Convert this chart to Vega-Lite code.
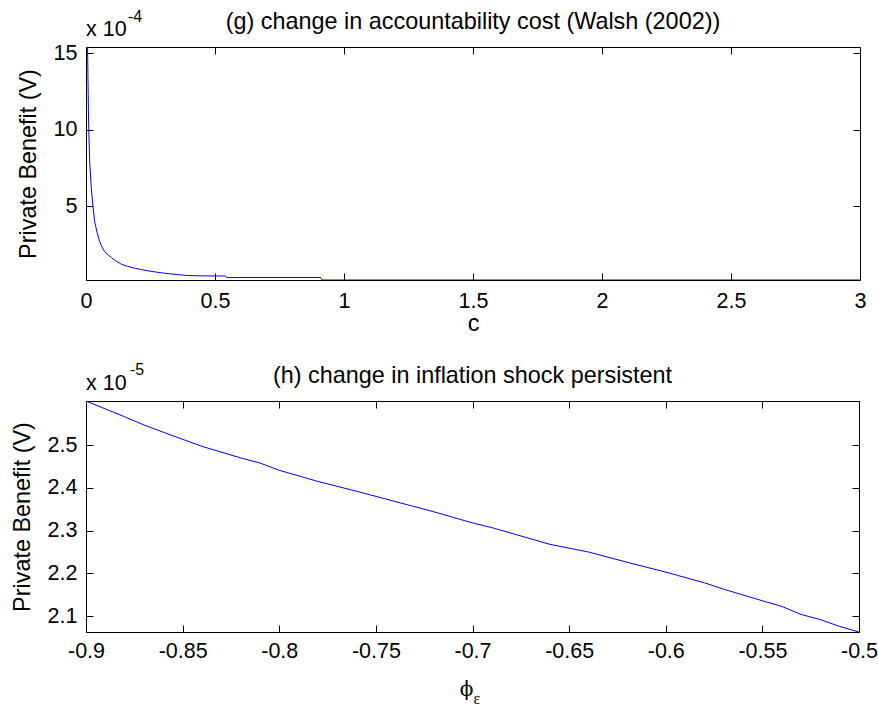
{
  "$schema": "https://vega.github.io/schema/vega-lite/v6.json",
  "background": "white",
  "padding": {"left": 10, "top": 9, "right": 0, "bottom": 0},
  "spacing": 27,
  "config": {
    "view": {"stroke": null},
    "font": "Liberation Sans",
    "axis": {
      "labelFont": "Liberation Sans",
      "labelFontSize": 21.5,
      "labelColor": "black",
      "titleFont": "Liberation Sans",
      "titleFontSize": 23.4,
      "titleFontWeight": "normal",
      "titleColor": "black",
      "domainColor": "black",
      "domainWidth": 1,
      "tickColor": "black",
      "tickSize": -7,
      "tickWidth": 1,
      "grid": false,
      "labelFlush": false,
      "labelOverlap": false
    },
    "text": {"color": "black", "font": "Liberation Sans"}
  },
  "vconcat": [
    {
      "width": 774,
      "height": 233,
      "layer": [
        {
          "data": {"name": "accountability", "values": [
            {"c": 0.006, "v": 1.54e-3},
            {"c": 0.010, "v": 1.05e-3},
            {"c": 0.0143, "v": 7.9e-4},
            {"c": 0.0205, "v": 6.2e-4},
            {"c": 0.027, "v": 5.0e-4},
            {"c": 0.0337, "v": 4.0e-4},
            {"c": 0.043, "v": 3.3e-4},
            {"c": 0.053, "v": 2.7e-4},
            {"c": 0.062, "v": 2.35e-4},
            {"c": 0.072, "v": 2.06e-4},
            {"c": 0.085, "v": 1.85e-4},
            {"c": 0.098, "v": 1.67e-4},
            {"c": 0.115, "v": 1.45e-4},
            {"c": 0.137, "v": 1.23e-4},
            {"c": 0.16, "v": 1.1e-4},
            {"c": 0.189, "v": 9.7e-5},
            {"c": 0.215, "v": 8.8e-5},
            {"c": 0.24, "v": 8.0e-5},
            {"c": 0.27, "v": 7.2e-5},
            {"c": 0.305, "v": 6.4e-5},
            {"c": 0.35, "v": 5.6e-5},
            {"c": 0.395, "v": 4.9e-5},
            {"c": 0.45, "v": 4.7e-5},
            {"c": 0.54, "v": 4.6e-5},
            {"c": 0.545, "v": 3.6e-5},
            {"c": 0.91, "v": 3.6e-5},
            {"c": 0.915, "v": 2.0e-5},
            {"c": 3.0, "v": 2.0e-5}
          ]},
          "layer": [
            {
              "mark": {"type": "line", "color": "#0000ff", "strokeWidth": 1, "clip": true},
              "encoding": {
                "x": {"field": "c", "type": "quantitative",
                      "scale": {"domain": [0, 3], "nice": false, "zero": false},
                      "axis": {"orient": "bottom", "values": [0, 0.5, 1, 1.5, 2, 2.5, 3], "labelExpr": "'' + datum.value", "title": "c", "labelPadding": 17, "titlePadding": 1}},
                "y": {"field": "v", "type": "quantitative",
                      "scale": {"domain": [2.0e-5, 1.54e-3], "nice": false, "zero": false},
                      "axis": {"orient": "left", "values": [5e-4, 1e-3, 1.5e-3], "labelExpr": "format(datum.value * 1e4, '~g')", "title": "Private Benefit (V)", "labelPadding": 16, "titlePadding": 13}}
              }
            },
            {
              "mark": {"type": "line", "opacity": 0},
              "encoding": {
                "x": {"field": "c", "type": "quantitative",
                      "axis": {"orient": "top", "values": [0, 0.5, 1, 1.5, 2, 2.5, 3], "labels": false, "title": null}},
                "y": {"field": "v", "type": "quantitative",
                      "axis": {"orient": "right", "values": [5e-4, 1e-3, 1.5e-3], "labels": false, "title": null}}
              }
            }
          ]
        },
        {
          "data": {"values": [{"label": "(g) change in accountability cost (Walsh (2002))"}]},
          "mark": {"type": "text", "align": "center", "baseline": "alphabetic", "fontSize": 23.4, "dy": -18},
          "encoding": {"text": {"field": "label"}, "x": {"datum": 1.5, "axis": null}, "y": {"datum": 1.54e-3, "axis": null}}
        },
        {
          "data": {"values": [{"label": "x 10"}]},
          "mark": {"type": "text", "align": "left", "baseline": "alphabetic", "fontSize": 21.5, "dy": -11},
          "encoding": {"text": {"field": "label"}, "x": {"datum": 0, "axis": null}, "y": {"datum": 1.54e-3, "axis": null}}
        },
        {
          "data": {"values": [{"label": "-4"}]},
          "mark": {"type": "text", "align": "left", "baseline": "alphabetic", "fontSize": 16, "dx": 42, "dy": -25},
          "encoding": {"text": {"field": "label"}, "x": {"datum": 0, "axis": null}, "y": {"datum": 1.54e-3, "axis": null}}
        }
      ],
      "resolve": {"axis": {"x": "independent", "y": "independent"}}
    },
    {
      "width": 773,
      "height": 231,
      "layer": [
        {
          "data": {"name": "persistence", "values": [
            {"phi": -0.90, "v": 2.603e-5},
            {"phi": -0.88, "v": 2.566e-5},
            {"phi": -0.87, "v": 2.547e-5},
            {"phi": -0.86, "v": 2.530e-5},
            {"phi": -0.84, "v": 2.497e-5},
            {"phi": -0.82, "v": 2.470e-5},
            {"phi": -0.81, "v": 2.458e-5},
            {"phi": -0.80, "v": 2.441e-5},
            {"phi": -0.78, "v": 2.415e-5},
            {"phi": -0.76, "v": 2.392e-5},
            {"phi": -0.74, "v": 2.368e-5},
            {"phi": -0.72, "v": 2.344e-5},
            {"phi": -0.70, "v": 2.318e-5},
            {"phi": -0.69, "v": 2.307e-5},
            {"phi": -0.68, "v": 2.294e-5},
            {"phi": -0.66, "v": 2.268e-5},
            {"phi": -0.64, "v": 2.250e-5},
            {"phi": -0.62, "v": 2.226e-5},
            {"phi": -0.60, "v": 2.203e-5},
            {"phi": -0.58, "v": 2.178e-5},
            {"phi": -0.57, "v": 2.163e-5},
            {"phi": -0.55, "v": 2.136e-5},
            {"phi": -0.54, "v": 2.123e-5},
            {"phi": -0.53, "v": 2.104e-5},
            {"phi": -0.52, "v": 2.092e-5},
            {"phi": -0.51, "v": 2.076e-5},
            {"phi": -0.50, "v": 2.063e-5}
          ]},
          "layer": [
            {
              "mark": {"type": "line", "color": "#0000ff", "strokeWidth": 1, "clip": true},
              "encoding": {
                "x": {"field": "phi", "type": "quantitative",
                      "scale": {"domain": [-0.9, -0.5], "nice": false, "zero": false},
                      "axis": {"orient": "bottom", "values": [-0.9, -0.85, -0.8, -0.75, -0.7, -0.65, -0.6, -0.55, -0.5], "labelExpr": "'' + datum.value", "title": null, "labelPadding": 15}},
                "y": {"field": "v", "type": "quantitative",
                      "scale": {"domain": [2.063e-5, 2.603e-5], "nice": false, "zero": false},
                      "axis": {"orient": "left", "values": [2.1e-5, 2.2e-5, 2.3e-5, 2.4e-5, 2.5e-5], "labelExpr": "format(datum.value * 1e5, '.1f')", "title": "Private Benefit (V)", "labelPadding": 16, "titlePadding": 13}}
              }
            },
            {
              "mark": {"type": "line", "opacity": 0},
              "encoding": {
                "x": {"field": "phi", "type": "quantitative",
                      "axis": {"orient": "top", "values": [-0.9, -0.85, -0.8, -0.75, -0.7, -0.65, -0.6, -0.55, -0.5], "labels": false, "title": null}},
                "y": {"field": "v", "type": "quantitative",
                      "axis": {"orient": "right", "values": [2.1e-5, 2.2e-5, 2.3e-5, 2.4e-5, 2.5e-5], "labels": false, "title": null}}
              }
            }
          ]
        },
        {
          "data": {"values": [{"label": "(h) change in inflation shock persistent"}]},
          "mark": {"type": "text", "align": "center", "baseline": "alphabetic", "fontSize": 23.4, "dy": -18},
          "encoding": {"text": {"field": "label"}, "x": {"datum": -0.7, "axis": null}, "y": {"datum": 2.603e-5, "axis": null}}
        },
        {
          "data": {"values": [{"label": "x 10"}]},
          "mark": {"type": "text", "align": "left", "baseline": "alphabetic", "fontSize": 21.5, "dy": -11},
          "encoding": {"text": {"field": "label"}, "x": {"datum": -0.9, "axis": null}, "y": {"datum": 2.603e-5, "axis": null}}
        },
        {
          "data": {"values": [{"label": "-5"}]},
          "mark": {"type": "text", "align": "left", "baseline": "alphabetic", "fontSize": 16, "dx": 44, "dy": -26},
          "encoding": {"text": {"field": "label"}, "x": {"datum": -0.9, "axis": null}, "y": {"datum": 2.603e-5, "axis": null}}
        },
        {
          "data": {"values": [{"label": "ϕ"}]},
          "mark": {"type": "text", "align": "center", "baseline": "alphabetic", "font": "DejaVu Serif", "fontSize": 20, "dx": -6, "dy": 64},
          "encoding": {"text": {"field": "label"}, "x": {"datum": -0.7, "axis": null}, "y": {"datum": 2.063e-5, "axis": null}}
        },
        {
          "data": {"values": [{"label": "ε"}]},
          "mark": {"type": "text", "align": "left", "baseline": "alphabetic", "font": "Liberation Serif", "fontSize": 16, "dx": 1, "dy": 72},
          "encoding": {"text": {"field": "label"}, "x": {"datum": -0.7, "axis": null}, "y": {"datum": 2.063e-5, "axis": null}}
        }
      ],
      "resolve": {"axis": {"x": "independent", "y": "independent"}}
    }
  ]
}
